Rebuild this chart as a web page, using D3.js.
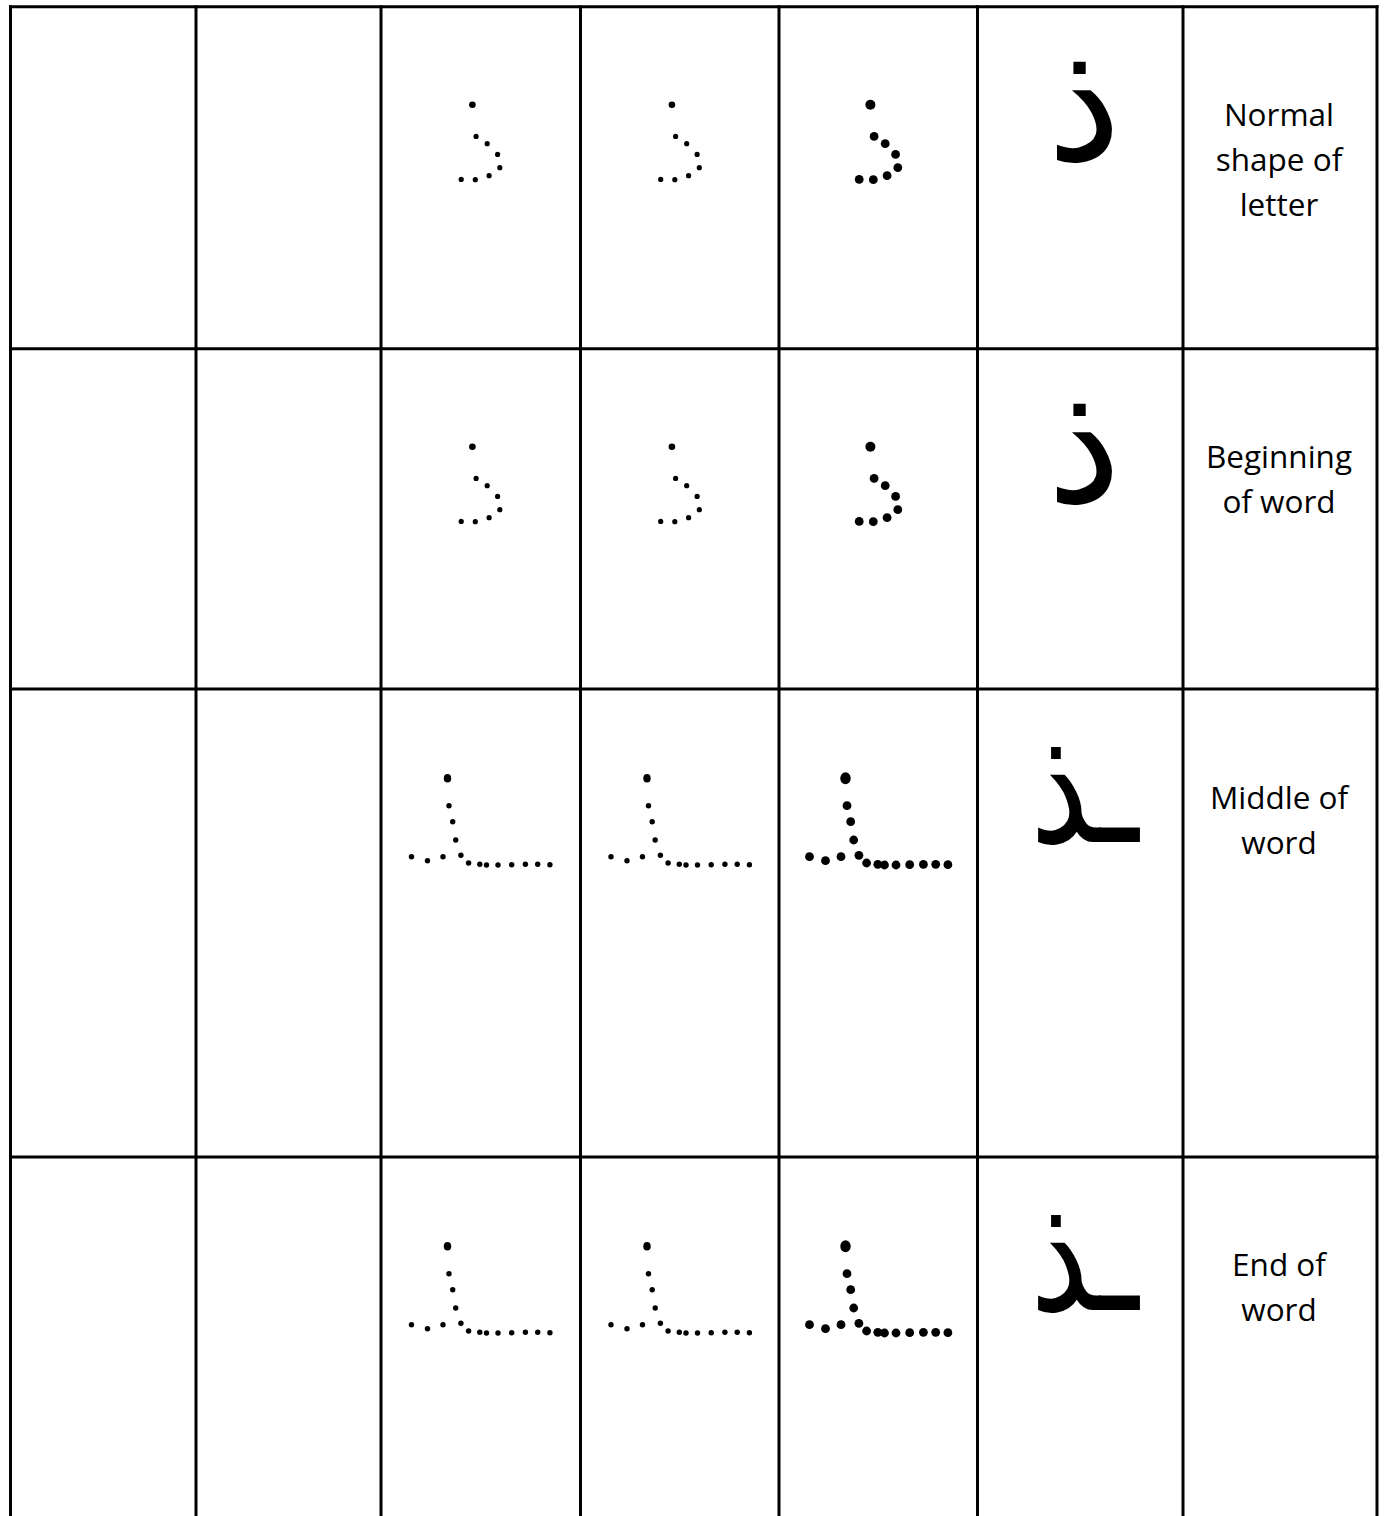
<!DOCTYPE html>
<html><head><meta charset="utf-8">
<script src="https://cdn.jsdelivr.net/npm/d3@7"></script>
<style>body{margin:0;background:#fff}svg{display:block}</style>
</head><body><svg id="c" width="1386" height="1516"></svg>
<script>
// ---------- data ----------
const rowLabels = [["Normal","shape of","letter"],["Beginning","of word"],["Middle of","word"],["End of","word"]];
const letterForms = ["ذ","ذ","ـذ","ـذ"];
const rowShape = ["isolated","isolated","medial","medial"];
const traceColumns = ["light","light","bold"];
// trace points in trace units; first point is the diacritic dot
const isolatedX = [91.4,95.1,106.2,116.6,118.8,108.1,94.3,80.2];
const isolatedY = [98,129.7,137,147.7,161,169,173,172.7];
const medialX = [66.5,68,71.7,74.7,79.9,87.6,98.8,105.5,117,130.7,144.4,156.7,168.9,30.5,46.5,62];
const medialY = [89.3,116.7,132.7,151,166.3,174,175.3,176,176,175.7,175.3,175.3,175.7,167.7,171.7,167.7];

// ---------- layout ----------
const W = 1386, H = 1516;
const colEdges = [10.5,196,381,580.5,779,977.5,1183,1377];
const rowEdges = [6.7,348.7,689,1157,1530];
const traceCol0 = 2, letterCol = 5, labelCol = 6;
const lineW = 3;
const dotStyle = {
  light: {isolated:{first:[3.3,3.3], r:2.6}, medial:{first:[3.7,4.3], r:2.7}},
  bold:  {isolated:{first:[5.0,5.0], r:4.4}, medial:{first:[5.2,6.0], r:4.4}}
};
const letterStyle = {
  isolated: {size:168, sx:1.0, dx:4},
  medial:   {size:162, sx:0.82, dx:4}
};
const shapes = {
  isolated: isolatedX.map((x,i)=>({x, y: isolatedY[i], first: i===0})),
  medial: medialX.map((x,i)=>({x, y: medialY[i], first: i===0}))
};

const svg = d3.select("#c");
svg.append("rect").attr("width",W).attr("height",H).attr("fill","#fff");

// grid
const g = svg.append("g").attr("stroke","#000").attr("stroke-width",lineW);
g.selectAll("line.v").data(colEdges).join("line").attr("class","v")
  .attr("x1",d=>d).attr("x2",d=>d).attr("y1",rowEdges[0]-lineW/2).attr("y2",H+5);
g.selectAll("line.h").data(rowEdges.slice(0,4)).join("line").attr("class","h")
  .attr("x1",colEdges[0]-lineW/2).attr("x2",colEdges[colEdges.length-1]+lineW/2)
  .attr("y1",d=>d).attr("y2",d=>d);

rowLabels.forEach((lines, r) => {
  const top = rowEdges[r];
  const shapeName = rowShape[r];
  // trace columns
  traceColumns.forEach((weight, k) => {
    const c = traceCol0 + k;
    const left = colEdges[c];
    const xs = d3.scaleLinear().domain([0,199]).range([left, left+199]);
    const ys = d3.scaleLinear().domain([0,100]).range([top, top+100]);
    const st = dotStyle[weight][shapeName];
    svg.append("g").selectAll("ellipse").data(shapes[shapeName]).join("ellipse")
      .attr("cx", d=>xs(d.x)).attr("cy", d=>ys(d.y))
      .attr("rx", d=>d.first?st.first[0]:st.r)
      .attr("ry", d=>d.first?st.first[1]:st.r)
      .attr("fill","#000");
  });
  // letter
  const ls = letterStyle[shapeName];
  const lc = (colEdges[letterCol]+colEdges[letterCol+1])/2 + ls.dx;
  svg.append("g").attr("transform",`translate(${lc},${top+153}) scale(${ls.sx},1)`)
    .append("text").attr("x",0).attr("y",0)
    .attr("text-anchor","middle").attr("direction","rtl")
    .attr("font-family","'DejaVu Sans'").attr("font-size",ls.size)
    .text(letterForms[r]);
  // label
  const tx = (colEdges[labelCol]+colEdges[labelCol+1])/2 - 1;
  const base0 = [119.5, 119.5, 120, 119][r];
  const t = svg.append("text").attr("text-anchor","middle")
    .attr("font-family","'Open Sans'").attr("font-size",31.5).attr("fill","#000");
  lines.forEach((ln,i)=>{
    t.append("tspan").attr("x",tx).attr("y",top+base0+i*45).text(ln);
  });
});
</script>
</body></html>
